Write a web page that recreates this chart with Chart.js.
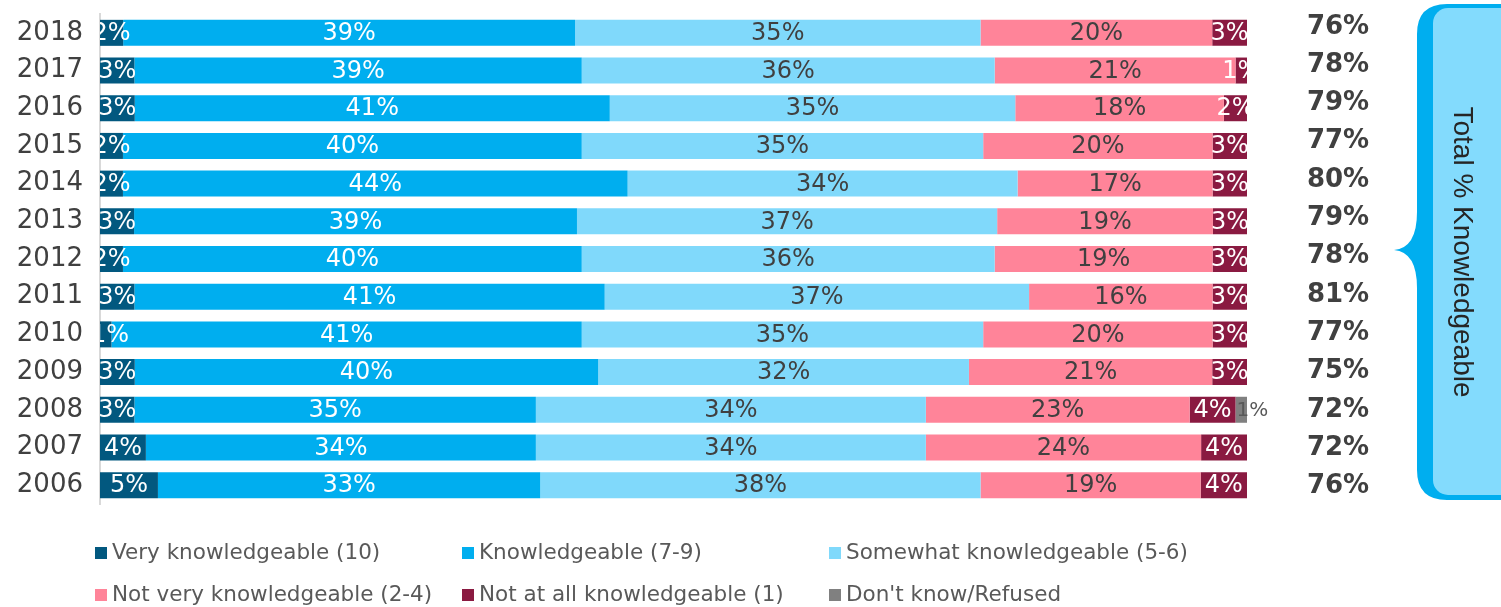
<!DOCTYPE html>
<html>
<head>
<meta charset="utf-8">
<style>
  html, body { margin: 0; padding: 0; background: #fff; }
  #wrap { width: 1501px; height: 607px; position: relative; }
</style>
<script src="https://cdn.jsdelivr.net/npm/chart.js@4.4.0/dist/chart.umd.min.js"></script>
</head>
<body>
<div id="wrap"><canvas id="knowChart" width="1501" height="607"></canvas></div>
<script>
const years = ['2018', '2017', '2016', '2015', '2014', '2013', '2012', '2011', '2010', '2009', '2008', '2007', '2006'];

const veryKnow     = [2, 3, 3, 2, 2, 3, 2, 3, 1, 3, 3, 4, 5];
const know         = [39, 39, 41, 40, 44, 39, 40, 41, 41, 40, 35, 34, 33];
const somewhatKnow = [35, 36, 35, 35, 34, 37, 36, 37, 35, 32, 34, 34, 38];
const notVeryKnow  = [20, 21, 18, 20, 17, 19, 19, 16, 20, 21, 23, 24, 19];
const notAtAll     = [3, 1, 2, 3, 3, 3, 3, 3, 3, 3, 4, 4, 4];
const dontKnow     = [0, 0, 0, 0, 0, 0, 0, 0, 0, 0, 1, 0, 0];

const totalKnow = [76, 78, 79, 77, 80, 79, 78, 81, 77, 75, 72, 72, 76];

const seriesNames = [
  'Very knowledgeable (10)', 'Knowledgeable (7-9)', 'Somewhat knowledgeable (5-6)',
  'Not very knowledgeable (2-4)', 'Not at all knowledgeable (1)', "Don't know/Refused"
];
const seriesValues = [veryKnow, know, somewhatKnow, notVeryKnow, notAtAll, dontKnow];
const seriesColors = ['#02587f', '#00aeef', '#80d9fb', '#ff8499', '#8a1a41', '#808080'];
const labelColors  = ['#ffffff', '#ffffff', '#404040', '#404040', '#ffffff', '#595959'];

// each row is stacked to 100%
const rowSums = years.map((_, i) => seriesValues.reduce((s, arr) => s + arr[i], 0));

const datasets = seriesValues.map((vals, k) => ({
  label: seriesNames[k],
  data: vals.map((v, i) => v / rowSums[i] * 100),
  raw: vals,
  backgroundColor: seriesColors[k],
  borderWidth: 0,
  categoryPercentage: 1,
  barPercentage: 0.69
}));

const segmentLabels = {
  id: 'segmentLabels',
  afterDatasetsDraw(chart) {
    const ctx = chart.ctx;
    const area = chart.chartArea;
    chart.data.datasets.forEach((ds, k) => {
      const meta = chart.getDatasetMeta(k);
      meta.data.forEach((bar, i) => {
        const v = ds.raw[i];
        if (!v) return;
        ctx.save();
        ctx.textBaseline = 'middle';
        if (k === 5) {
          // small label spilling past the bar end
          ctx.font = '20px "DejaVu Sans"';
          ctx.fillStyle = labelColors[k];
          ctx.textAlign = 'left';
          ctx.fillText(v + '%', bar.base + 1, bar.y + 1);
        } else {
          ctx.beginPath();
          ctx.rect(area.left, area.top, area.right - area.left, area.bottom - area.top);
          ctx.clip();
          ctx.font = '24px "DejaVu Sans"';
          ctx.fillStyle = labelColors[k];
          ctx.textAlign = 'center';
          const cx = Math.max((bar.x + bar.base) / 2, area.left + 10);
          ctx.fillText(v + '%', cx, bar.y + 1);
        }
        ctx.restore();
      });
    });
  }
};

const totalsAndBrace = {
  id: 'totalsAndBrace',
  afterDraw(chart) {
    const ctx = chart.ctx;
    const meta = chart.getDatasetMeta(0);
    ctx.save();
    ctx.font = 'bold 26px "DejaVu Sans"';
    ctx.fillStyle = '#404040';
    ctx.textAlign = 'center';
    ctx.textBaseline = 'middle';
    // totals column sits on a slightly looser pitch than the bars
    meta.data.forEach((bar, i) => {
      ctx.fillText(totalKnow[i] + '%', 1338, bar.y - 6 + i * 0.6);
    });

    // bracket box
    const L = 1417, T = 4, R = 1520, B = 500, r = 30, tipY = 250;
    ctx.beginPath();
    ctx.moveTo(R, T);
    ctx.lineTo(L + r, T);
    ctx.quadraticCurveTo(L, T, L, T + r);
    ctx.lineTo(L, tipY - 38);
    ctx.quadraticCurveTo(L, tipY - 2, 1394, tipY);
    ctx.quadraticCurveTo(L, tipY + 2, L, tipY + 38);
    ctx.lineTo(L, B - r);
    ctx.quadraticCurveTo(L, B, L + r, B);
    ctx.lineTo(R, B);
    ctx.closePath();
    ctx.fillStyle = '#00aeef';
    ctx.fill();

    ctx.beginPath();
    ctx.roundRect(1433, 8, 100, 487, 15);
    ctx.fillStyle = '#83dbfd';
    ctx.fill();

    ctx.translate(1462, 252);
    ctx.rotate(Math.PI / 2);
    ctx.font = '28px "Liberation Sans"';
    ctx.fillStyle = '#262626';
    ctx.textAlign = 'center';
    ctx.textBaseline = 'middle';
    ctx.fillText('Total % Knowledgeable', 0, 0);
    ctx.restore();

    // legend in two rows of three
    ctx.save();
    ctx.font = '21.5px "DejaVu Sans"';
    ctx.textBaseline = 'middle';
    ctx.textAlign = 'left';
    const colX = [95, 462, 829];
    const rowY = [553, 595];
    seriesNames.forEach((name, k) => {
      const x = colX[k % 3];
      const y = rowY[Math.floor(k / 3)];
      ctx.fillStyle = seriesColors[k];
      ctx.fillRect(x, y - 6, 12, 12);
      ctx.fillStyle = '#595959';
      ctx.fillText(name, x + 17, y);
    });
    ctx.restore();
  }
};

new Chart(document.getElementById('knowChart').getContext('2d'), {
  type: 'bar',
  data: { labels: years, datasets: datasets },
  options: {
    indexAxis: 'y',
    responsive: false,
    animation: false,
    layout: { padding: { top: 14, right: 254, bottom: 103, left: 0 } },
    plugins: {
      legend: { display: false },
      tooltip: { enabled: false }
    },
    scales: {
      x: {
        stacked: true,
        min: 0,
        max: 100,
        display: false
      },
      y: {
        stacked: true,
        afterFit(scale) {
          scale.width = 100;
          scale.paddingTop = 0;
          scale.paddingBottom = 0;
        },
        grid: { display: false },
        border: { display: true, color: '#d9d9d9', width: 2 },
        ticks: {
          padding: 9,
          color: '#404040',
          font: { family: 'DejaVu Sans', size: 26 }
        }
      }
    }
  },
  plugins: [segmentLabels, totalsAndBrace]
});
</script>
</body>
</html>
